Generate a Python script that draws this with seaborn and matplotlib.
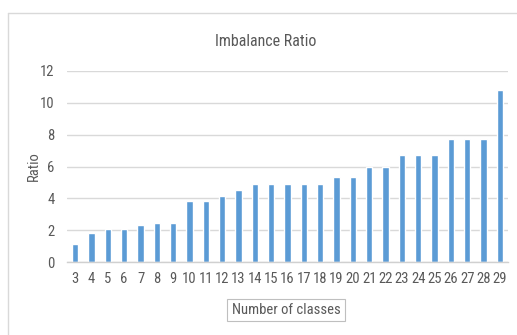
import matplotlib
matplotlib.use("Agg")
import matplotlib.pyplot as plt
import seaborn as sns
import pandas as pd
from matplotlib.lines import Line2D

classes = [3, 4, 5, 6, 7, 8, 9, 10, 11, 12, 13, 14, 15, 16, 17, 18, 19, 20,
           21, 22, 23, 24, 25, 26, 27, 28, 29]
ratios = [1.1, 1.8, 2.1, 2.1, 2.35, 2.45, 2.45, 3.85, 3.85, 4.15, 4.5, 4.9,
          4.9, 4.9, 4.9, 4.9, 5.35, 5.35, 6.0, 6.0, 6.75, 6.75, 6.75, 7.7,
          7.7, 7.7, 10.8]
yticks = [0, 2, 4, 6, 8, 10, 12]

sns.set_theme(style="white")
plt.rcParams["font.family"] = ["Roboto Condensed", "Carlito", "DejaVu Sans"]
text_gray = "#595959"

df = pd.DataFrame({"classes": [str(c) for c in classes], "ratio": ratios})

fig = plt.figure(figsize=(5.17, 3.35), dpi=100)
W, H = 517, 335
ax = fig.add_axes([67 / W, 73 / H, (508 - 67) / W, (262 - 71) / H])

sns.barplot(data=df, x="classes", y="ratio", color="#5B9BD5", width=0.38,
            saturation=1, ax=ax)

ax.set_xlim(-0.5, len(classes) - 0.5)
ax.set_ylim(0, 12)
ax.set_yticks(yticks)
ax.yaxis.grid(True, color="#D9D9D9", linewidth=1)
ax.set_axisbelow(True)
for s in ["top", "right", "left"]:
    ax.spines[s].set_visible(False)
ax.spines["bottom"].set_color("#D0D0D0")
ax.spines["bottom"].set_linewidth(1)
ax.tick_params(axis="both", length=0, labelsize=10.5, labelcolor=text_gray)
ax.tick_params(axis="y", pad=9)
ax.tick_params(axis="x", pad=7)

ax.set_xlabel("")
ax.set_ylabel("Ratio", fontsize=10.5, color=text_gray)
ax.yaxis.set_label_coords(-0.06, 0.5)

fig.text(266 / W, 1 - 41 / H, "Imbalance Ratio", ha="center", va="center",
         fontsize=11.5, color=text_gray)

fig.text(286 / W, 1 - 310 / H, "Number of classes", ha="center", va="center",
         fontsize=10.5, color=text_gray,
         bbox=dict(boxstyle="square,pad=0.3", fc="white", ec="#BFBFBF", lw=0.8))

# chart frame
fig.add_artist(Line2D([8 / W, 8 / W], [0, 1 - 13 / H], color="#D9D9D9",
                      lw=1, transform=fig.transFigure))
fig.add_artist(Line2D([8 / W, 1], [1 - 13 / H, 1 - 13 / H], color="#D9D9D9",
                      lw=1, transform=fig.transFigure))

fig.savefig("out.png", dpi=100, facecolor="white")
